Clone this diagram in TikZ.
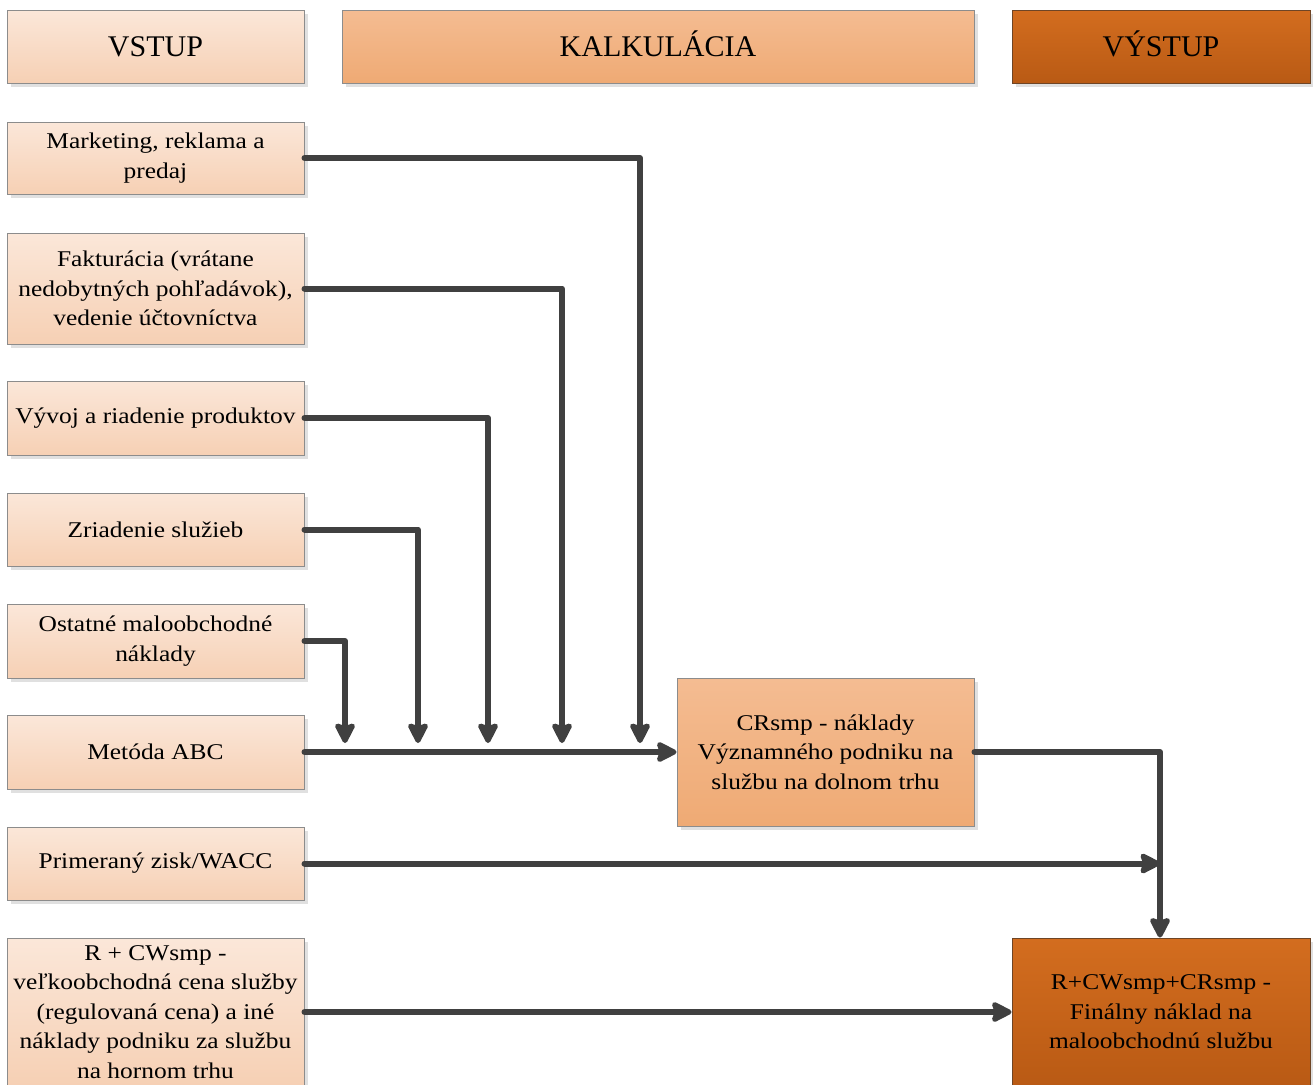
\documentclass[tikz,border=0pt]{standalone}
\usepackage{fontspec}
\setmainfont{Liberation Serif}
\newfontfamily\wideserif{Liberation Serif}[FakeStretch=1.13]
\usetikzlibrary{arrows.meta,shadows}

\definecolor{lineGrey}{HTML}{404040}
\definecolor{peachTop}{HTML}{FBE7D9}
\definecolor{peachBot}{HTML}{F6D0B4}
\definecolor{apriTop}{HTML}{F4BC92}
\definecolor{apriBot}{HTML}{EFAA74}
\definecolor{rustTop}{HTML}{D36D1F}
\definecolor{rustBot}{HTML}{B95A14}
\definecolor{boxEdge}{HTML}{8C8C8C}
\definecolor{rustEdge}{HTML}{6E4526}

\tikzset{
  x=1pt, y=-1pt,
  basebox/.style={draw=boxEdge, line width=1pt, inner sep=0pt, align=center,
    font=\wideserif\fontsize{22.5}{29.5}\selectfont,
    drop shadow={shadow xshift=4pt, shadow yshift=-4pt, fill=black!12, opacity=1}},
  inbox/.style={basebox, top color=peachTop, bottom color=peachBot},
  calcbox/.style={basebox, top color=apriTop, bottom color=apriBot},
  outbox/.style={basebox, draw=rustEdge, top color=rustTop, bottom color=rustBot},
  headtext/.style={font=\fontsize{30}{36}\selectfont, text height=20pt, text depth=1pt},
  flow/.style={draw=lineGrey, line width=6pt, line cap=round, line join=round,
    -{Stealth[length=24pt, width=24pt, inset=4pt, round]}},
}

\begin{document}
\begin{tikzpicture}
\useasboundingbox (0,0) rectangle (1313,1084);
\clip (0,0) rectangle (1313,1084);

% column headers
\node[inbox, headtext, minimum width=297pt, minimum height=73pt] (hin) at (155.5,46.5) {VSTUP};
\node[calcbox, headtext, minimum width=632pt, minimum height=73pt] (hcalc) at (658,46.5) {KALKULÁCIA};
\node[outbox, headtext, minimum width=298pt, minimum height=73pt] (hout) at (1161,46.5) {VÝSTUP};

% input boxes
\node[inbox, minimum width=297pt, minimum height=72pt] (mkt) at (155.5,158) {Marketing, reklama a\\predaj};
\node[inbox, minimum width=297pt, minimum height=111pt] (fakt) at (155.5,288.5) {Fakturácia (vrátane\\nedobytných pohľadávok),\\vedenie účtovníctva};
\node[inbox, minimum width=297pt, minimum height=74pt] (vyv) at (155.5,418) {Vývoj a riadenie produktov};
\node[inbox, minimum width=297pt, minimum height=73pt] (zria) at (155.5,529.5) {Zriadenie služieb};
\node[inbox, minimum width=297pt, minimum height=74pt] (ost) at (155.5,641) {Ostatné maloobchodné\\náklady};
\node[inbox, minimum width=297pt, minimum height=74pt] (abc) at (155.5,752) {Metóda ABC};
\node[inbox, minimum width=297pt, minimum height=73pt] (zisk) at (155.5,863.5) {Primeraný zisk/WACC};
\node[inbox, minimum width=297pt, minimum height=148pt] (cw) at (155.5,1012) {R + CWsmp -\\veľkoobchodná cena služby\\(regulovaná cena) a iné\\náklady podniku za službu\\na hornom trhu};

% calculation and result boxes
\node[calcbox, minimum width=297pt, minimum height=148pt] (crs) at (825.5,752) {CRsmp - náklady\\Významného podniku na\\službu na dolnom trhu};
\node[outbox, minimum width=298pt, minimum height=148pt] (fin) at (1161,1012) {R+CWsmp+CRsmp -\\Finálny náklad na\\maloobchodnú službu};

% drop-in points on the cost line
\coordinate (d1) at (640,752);
\coordinate (d2) at (562,752);
\coordinate (d3) at (488,752);
\coordinate (d4) at (418,752);
\coordinate (d5) at (345,752);
\coordinate (jn) at (1160,863.5);

% connectors
\draw[flow] (abc.east) -- (crs.west);
\draw[flow, shorten >=9pt] (mkt.east) -| (d1);
\draw[flow, shorten >=9pt] (fakt.east) -| (d2);
\draw[flow, shorten >=9pt] (vyv.east) -| (d3);
\draw[flow, shorten >=9pt] (zria.east) -| (d4);
\draw[flow, shorten >=9pt] (ost.east) -| (d5);
\draw[flow] (zisk.east) -- (jn);
\draw[flow] (crs.east) -| (fin.north -| jn);
\draw[flow] (cw.east |- fin.west) -- (fin.west);
\end{tikzpicture}
\end{document}
